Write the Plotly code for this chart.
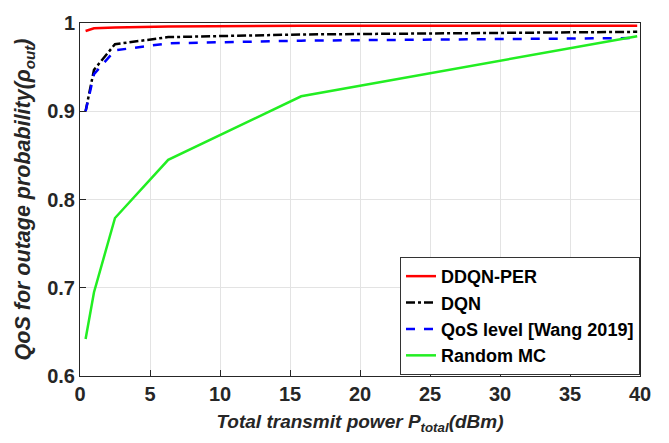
import plotly.graph_objects as go

power = [0.4, 1.0, 2.5, 6.3, 15.8, 39.8]
ddqn_per = [0.991, 0.994, 0.995, 0.996, 0.997, 0.997]
dqn = [0.900, 0.947, 0.976, 0.984, 0.987, 0.990]
qos_wang = [0.900, 0.942, 0.969, 0.977, 0.980, 0.983]
random_mc = [0.642, 0.695, 0.779, 0.845, 0.917, 0.985]

x_ticks = [0, 5, 10, 15, 20, 25, 30, 35, 40]
y_ticks = [0.6, 0.7, 0.8, 0.9, 1.0]
y_labels = ["0.6", "0.7", "0.8", "0.9", "1"]

fig = go.Figure()
fig.add_trace(go.Scatter(x=power, y=ddqn_per, mode="lines", name="<b>DDQN-PER</b>",
                         line=dict(color="#ff0000", width=2.5)))
fig.add_trace(go.Scatter(x=power, y=dqn, mode="lines", name="<b>DQN</b>",
                         line=dict(color="#000000", width=2.5, dash="dashdot")))
fig.add_trace(go.Scatter(x=power, y=qos_wang, mode="lines", name="<b>QoS level [Wang 2019]</b>",
                         line=dict(color="#0000ff", width=2.5, dash="dash")))
fig.add_trace(go.Scatter(x=power, y=random_mc, mode="lines", name="<b>Random MC</b>",
                         line=dict(color="#22ee22", width=2.5)))

reg = "Liberation Sans, Arial, sans-serif"
fig.update_layout(
    width=669, height=443,
    margin=dict(l=80, r=29, t=14, b=67),
    paper_bgcolor="white", plot_bgcolor="white",
    font=dict(family=reg, size=18, color="#262626"),
    showlegend=True,
    legend=dict(x=1.0, y=0.003, xanchor="right", yanchor="bottom",
                bgcolor="white", bordercolor="#333333", borderwidth=1,
                font=dict(family=reg, size=18, color="black"),
                tracegroupgap=0, itemwidth=30),
)
fig.update_xaxes(range=[0, 40], tickvals=x_ticks, ticktext=[f"<b>{v}</b>" for v in x_ticks],
                 tickfont=dict(family=reg, size=20, color="#262626"),
                 showgrid=True, gridcolor="#e3e3e3", gridwidth=1,
                 showline=True, linecolor="#262626", linewidth=1, mirror=True,
                 ticks="inside", ticklen=6, tickcolor="#262626", zeroline=False,
                 title=dict(text="<b><i>Total transmit power P<sub>total</sub>(dBm)</i></b>",
                            font=dict(family=reg, size=19), standoff=10))
fig.update_yaxes(range=[0.6, 1.0], tickvals=y_ticks,
                 ticktext=[f"<b>{t}</b>" for t in y_labels],
                 tickfont=dict(family=reg, size=20, color="#262626"),
                 showgrid=True, gridcolor="#e3e3e3", gridwidth=1,
                 showline=True, linecolor="#262626", linewidth=1, mirror=True,
                 ticks="inside", ticklen=6, tickcolor="#262626", zeroline=False,
                 title=dict(text="<b><i>QoS for outage probability(ρ<sub>out</sub>)</i></b>",
                            font=dict(family=reg, size=21.5), standoff=10))

fig.write_html("out.html")
